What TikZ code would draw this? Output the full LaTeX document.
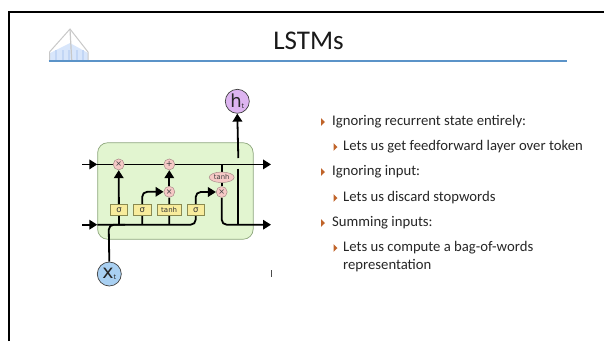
\documentclass[tikz,border=0pt]{standalone}
\usepackage{fontspec}
\setmainfont{Carlito}
\newfontfamily\diagfont{DejaVu Sans}
\usetikzlibrary{arrows.meta,shapes.geometric,backgrounds,positioning}
\definecolor{cellgreen}{HTML}{E2F5D0}
\definecolor{cellborder}{HTML}{8DA67C}
\definecolor{oppink}{HTML}{F6C9C6}
\definecolor{opborder}{HTML}{A88A88}
\definecolor{layeryellow}{HTML}{F8EC9C}
\definecolor{layerborder}{HTML}{8A8A50}
\definecolor{rulecol}{HTML}{5B93C8}
\definecolor{bulletcol}{HTML}{C0642A}
\definecolor{textcol}{HTML}{262626}
\definecolor{roofgray}{HTML}{C8C8C8}
\definecolor{glass}{HTML}{D8E6FB}
\definecolor{glassdark}{HTML}{C2D6F5}
\definecolor{hfill}{HTML}{DDB4F0}
\definecolor{xfill}{HTML}{A9D0F2}
\tikzset{
  x=1pt,y=-1pt,
  oper/.style={circle,draw=opborder,line width=.5pt,fill=oppink,inner sep=0pt,minimum size=11pt,font=\diagfont\fontsize{8}{9}\selectfont,text=black!75},
  tanhop/.style={ellipse,draw=opborder,line width=.5pt,fill=oppink,inner sep=0pt,minimum width=25pt,minimum height=10.5pt,font=\diagfont\fontsize{6.8}{7}\selectfont,text=black!75},
  layerbox/.style={rectangle,draw=layerborder,line width=.6pt,fill=layeryellow,inner sep=0pt,minimum height=10.5pt,font=\diagfont\fontsize{8.5}{9}\selectfont,text=black!80},
  smalltanh/.style={font=\diagfont\fontsize{7}{8}\selectfont},
  termnode/.style={circle,draw=black!75,line width=.7pt,inner sep=0pt,minimum size=24pt,text=black!85},
  wire/.style={line width=1.8pt,black,rounded corners=5pt},
  wirearrow/.style={wire,-{Triangle[length=8pt,width=9.5pt]}},
  lone/.style={anchor=west,font=\fontsize{14.7}{16}\selectfont,text=textcol,inner sep=0pt},
  ltwo/.style={lone},
  bul/.style={fill=bulletcol,draw=none},
}
\newcommand{\bulletat}[2]{\fill[bul] (#1,#2-3.8) -- (#1+4,#2) -- (#1,#2+3.8) -- cycle;}
\begin{document}
\begin{tikzpicture}
\useasboundingbox (0,0) rectangle (604,341);
% slide frame
\draw[line width=2.3pt,black] (8.7,341) -- (8.7,12) -- (604,12);
% logo
\fill[glass] (50,60) -- (50,53) -- (70,43) -- (88,53) -- (88,60) -- cycle;
\foreach \lx in {56,63,69,77,83}{\draw[glassdark,line width=1.2pt] (\lx,50) -- (\lx,60);}
\draw[roofgray,line width=1pt] (49.5,60) -- (49.5,52) -- (70,29) -- (88,52) -- (88,60);
\draw[roofgray,line width=1.2pt] (70,29) -- (71.7,60);
\draw[rulecol,line width=1.4pt] (48.7,61) -- (567,61);
% title
\node[inner sep=0pt,font=\fontsize{27}{30}\selectfont,text=black!90] (title) at (308.5,41) {LSTMs};
% cell
\begin{scope}[on background layer]
\node[draw=cellborder,fill=cellgreen,line width=.7pt,rounded corners=10pt,minimum width=155.5pt,minimum height=96.5pt,inner sep=0pt] (cell) at (175.4,191) {};
\end{scope}
% operators
\node[oper] (xa) at (118.7,164.4) {×};
\node[oper] (plus) at (169.3,164.4) {+};
\node[oper] (xb) at (169.3,191.8) {×};
\node[oper] (xc) at (221.7,192) {×};
\node[tanhop] (tanhb) at (221.7,177.3) {tanh};
\node[layerbox,minimum width=17.5pt] (sa) at (119,210) {σ};
\node[layerbox,minimum width=17.5pt] (sb) at (142.2,210) {σ};
\node[layerbox,minimum width=23.5pt,smalltanh] (ta) at (169.2,210) {tanh};
\node[layerbox,minimum width=17.5pt] (sc) at (195.7,210) {σ};
\node[termnode,fill=hfill] (ht) at (237.3,101.3) {\diagfont\fontsize{18}{19}\selectfont h\raisebox{-1pt}{\fontsize{6.5}{7}\selectfont t}};
\node[termnode,fill=xfill] (xt) at (109.3,274) {\diagfont\fontsize{19}{20}\selectfont x\raisebox{-1pt}{\fontsize{6.5}{7}\selectfont t}};
% free ends
\coordinate (topin) at (82,164.4);
\coordinate (topout) at (271,164.4);
\coordinate (botin) at (82,224.7);
\coordinate (botout) at (271,224.7);
\coordinate (topjoin) at (221.7,164.4);
\coordinate (hgapa) at (238.3,158);
\coordinate (hgapb) at (238.3,168.7);
\begin{scope}[on background layer]
\draw[wirearrow] (topin) -- (cell.west |- topin);
\draw[wirearrow] (botin) -- (cell.west |- botin);
\draw[wirearrow] (cell.west |- topin) -- (topout);
\draw[wirearrow] (cell.west |- botin) -- (195.7,224.7) -- (195.7,192) -- (xc.west);
\draw[wirearrow] (sa.center |- botin) -- (xa.south);
\draw[wirearrow] (sb.center |- botin) -- (142.2,191.8) -- (xb.west);
\draw[wire] (ta.center |- botin) -- (xb.south);
\draw[wirearrow] (xb.north) -- (plus.south);
\draw[wire] (topjoin) -- (tanhb.north);
\draw[wire] (tanhb.south) -- (xc.north);
\draw[wirearrow] (xc.south) -- (221.7,224.7) -- (botout);
\draw[wire] (hgapb) -- (238.3,224.7);
\draw[wirearrow] (hgapa) -- (ht.south);
\draw[wire] (xt.north) -- (108.7,224.7) -- (125,224.7);
\end{scope}
% stray mark
\draw[black!70,line width=.7pt] (271.5,270) -- (271.5,277);
% text
\foreach \by/\bx in {122/321,172/321,223/321}{\bulletat{\bx}{\by}}
\foreach \by/\bx in {147/333.5,198/333.5,248/333.5}{\bulletat{\bx}{\by}}
\node[lone] (t1) at (332,122) {Ignoring recurrent state entirely:};
\node[ltwo] (t2) at (343,146.7) {Lets us get feedforward layer over token};
\node[lone] (t3) at (332,172) {Ignoring input:};
\node[ltwo] (t4) at (343,198) {Lets us discard stopwords};
\node[lone] (t5) at (332,223) {Summing inputs:};
\node[ltwo] (t6) at (343,248) {Lets us compute a bag-of-words};
\node[ltwo] (t7) at (343,266) {representation};
\end{tikzpicture}
\end{document}
